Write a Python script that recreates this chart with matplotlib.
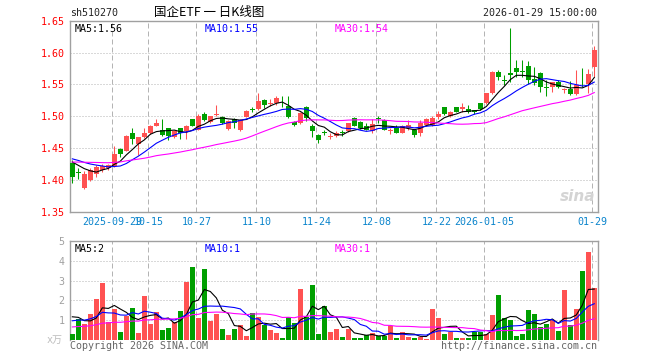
import matplotlib
matplotlib.use('Agg')
import matplotlib.pyplot as plt
import numpy as np
import pandas as pd

plt.rcParams['font.family'] = ['DejaVu Sans Mono', 'Noto Sans CJK SC']

# daily K of sh510270, 2025-09-18 .. 2026-01-29 (88 sessions)
opens = [1.427, 1.412, 1.387, 1.400, 1.409, 1.415, 1.418, 1.422, 1.448, 1.446,
         1.474, 1.456, 1.468, 1.474, 1.485, 1.478, 1.481, 1.468, 1.481, 1.476,
         1.495, 1.479, 1.503, 1.491, 1.502, 1.499, 1.480, 1.495, 1.478, 1.499,
         1.511, 1.511, 1.525, 1.519, 1.520, 1.521, 1.516, 1.491, 1.489, 1.514,
         1.485, 1.470, 1.475, 1.468, 1.469, 1.475, 1.476, 1.497, 1.491, 1.485,
         1.476, 1.497, 1.494, 1.476, 1.481, 1.474, 1.481, 1.478, 1.474, 1.486,
         1.486, 1.499, 1.514, 1.500, 1.514, 1.512, 1.512, 1.509, 1.520, 1.520,
         1.536, 1.570, 1.556, 1.568, 1.575, 1.571, 1.579, 1.559, 1.568, 1.545,
         1.546, 1.554, 1.541, 1.542, 1.535, 1.551, 1.550, 1.578]
highs = [1.431, 1.419, 1.414, 1.418, 1.424, 1.425, 1.425, 1.453, 1.450, 1.470,
         1.481, 1.468, 1.481, 1.486, 1.495, 1.495, 1.482, 1.478, 1.482, 1.486,
         1.496, 1.504, 1.506, 1.501, 1.518, 1.500, 1.494, 1.497, 1.495, 1.509,
         1.514, 1.536, 1.527, 1.527, 1.531, 1.531, 1.531, 1.492, 1.506, 1.516,
         1.487, 1.472, 1.478, 1.473, 1.477, 1.478, 1.490, 1.498, 1.492, 1.489,
         1.496, 1.500, 1.495, 1.481, 1.486, 1.486, 1.494, 1.480, 1.494, 1.497,
         1.500, 1.508, 1.515, 1.508, 1.515, 1.520, 1.517, 1.510, 1.521, 1.537,
         1.571, 1.572, 1.565, 1.639, 1.589, 1.589, 1.586, 1.578, 1.569, 1.557,
         1.554, 1.557, 1.545, 1.555, 1.573, 1.575, 1.574, 1.610]
lows = [1.395, 1.402, 1.385, 1.398, 1.405, 1.412, 1.416, 1.420, 1.436, 1.445,
        1.457, 1.439, 1.466, 1.472, 1.484, 1.469, 1.462, 1.466, 1.464, 1.464,
        1.484, 1.478, 1.492, 1.489, 1.500, 1.488, 1.478, 1.482, 1.476, 1.498,
        1.507, 1.510, 1.513, 1.516, 1.518, 1.515, 1.497, 1.484, 1.487, 1.492,
        1.468, 1.458, 1.470, 1.464, 1.467, 1.469, 1.475, 1.484, 1.480, 1.478,
        1.473, 1.490, 1.479, 1.472, 1.473, 1.473, 1.479, 1.468, 1.469, 1.485,
        1.485, 1.495, 1.502, 1.499, 1.506, 1.507, 1.505, 1.503, 1.510, 1.519,
        1.535, 1.557, 1.549, 1.554, 1.561, 1.561, 1.550, 1.549, 1.538, 1.532,
        1.538, 1.544, 1.536, 1.534, 1.534, 1.546, 1.536, 1.562]
closes = [1.405, 1.411, 1.409, 1.416, 1.420, 1.422, 1.423, 1.441, 1.441, 1.469,
          1.464, 1.467, 1.473, 1.485, 1.490, 1.470, 1.469, 1.477, 1.473, 1.485,
          1.485, 1.500, 1.494, 1.500, 1.503, 1.489, 1.493, 1.490, 1.494, 1.508,
          1.510, 1.524, 1.518, 1.521, 1.528, 1.520, 1.499, 1.486, 1.505, 1.497,
          1.476, 1.463, 1.473, 1.469, 1.474, 1.474, 1.489, 1.484, 1.481, 1.479,
          1.488, 1.496, 1.479, 1.479, 1.474, 1.485, 1.486, 1.470, 1.490, 1.495,
          1.497, 1.503, 1.503, 1.507, 1.507, 1.515, 1.507, 1.507, 1.511, 1.536,
          1.570, 1.562, 1.555, 1.564, 1.570, 1.570, 1.557, 1.552, 1.546, 1.544,
          1.554, 1.546, 1.542, 1.535, 1.549, 1.550, 1.566, 1.604]
# volume, x万
volumes = [0.32, 1.07, 0.82, 1.32, 2.07, 2.87, 0.92, 1.57, 0.42, 1.23,
           1.62, 0.37, 2.22, 0.82, 1.42, 0.52, 0.62, 0.92, 1.47, 2.92,
           3.67, 1.12, 3.57, 0.97, 1.32, 0.57, 0.27, 0.57, 0.77, 0.22,
           1.37, 1.17, 0.77, 0.52, 0.37, 0.12, 1.17, 0.87, 2.57, 1.17,
           2.77, 0.32, 1.72, 0.42, 0.57, 0.18, 0.57, 0.12, 0.12, 0.27,
           0.37, 0.22, 0.22, 0.72, 0.12, 0.42, 0.17, 0.12, 0.17, 0.07,
           1.57, 1.12, 0.32, 0.42, 0.12, 0.12, 0.12, 0.42, 0.42, 0.30,
           1.27, 2.27, 1.12, 1.02, 0.22, 0.32, 1.52, 1.32, 0.67, 0.82,
           1.02, 0.47, 2.52, 0.77, 1.57, 3.47, 4.43, 2.62]

# sessions before the window, only there to warm up the moving averages
pre_close = [1.412, 1.418, 1.421, 1.425, 1.430, 1.428, 1.424, 1.420, 1.418, 1.422,
             1.427, 1.431, 1.429, 1.426, 1.428, 1.432, 1.430, 1.427, 1.429, 1.433,
             1.436, 1.440, 1.441, 1.437, 1.436, 1.437, 1.435, 1.433, 1.430]
pre_vol = [0.42, 0.55, 0.38, 0.61, 0.47, 0.52, 0.66, 0.43, 0.39, 0.58,
           0.50, 0.45, 0.62, 0.57, 0.41, 0.48, 0.55, 0.63, 0.52, 0.56,
           0.72, 0.85, 0.66, 0.91, 0.76, 1.21, 1.65, 1.38, 1.34]

tick_idx = [7, 13, 21, 31, 41, 51, 61, 69, 87]
tick_labels = ['2025-09-29', '10-15', '10-27', '11-10', '11-24', '12-08',
               '12-22', '2026-01-05', '01-29']
price_ticks = [1.35, 1.40, 1.45, 1.50, 1.55, 1.60, 1.65]
vol_ticks = [1, 2, 3, 4, 5]

RED = '#ff5252'
GREEN = '#009f00'
GRID = '#b4b4b4'
BORDER = '#a0a0a0'

n = len(closes)
x = np.arange(n)
o = np.array(opens)
c = np.array(closes)
up = c >= o
cols = [RED if u else GREEN for u in up]


def ma(pre, vals, w):
    s = pd.Series(pre + vals).rolling(w).mean()
    return s.iloc[len(pre):].to_numpy()


fig = plt.figure(figsize=(6.6, 3.6), dpi=100)
W, H = 660.0, 360.0
ax = fig.add_axes([70.3 / W, 1 - 211.7 / H, 527.4 / W, 191 / H])
axv = fig.add_axes([70.3 / W, 1 - 340.3 / H, 527.4 / W, 99.6 / H])
xmin, xmax = -0.34, n - 1 + 0.57
grid_x = [i - 1 / 3 for i in tick_idx]

# ---- price panel
ax.vlines(x, lows, highs, colors=cols, lw=0.75, zorder=3)
body = np.maximum(np.abs(c - o), 0.0012)
ax.bar(x, body, bottom=np.minimum(o, c), width=0.8, color=cols, lw=0, zorder=3)
ax.plot(x, ma(pre_close, closes, 5), color='black', lw=0.8, zorder=4)
ax.plot(x, ma(pre_close, closes, 10), color='#0000ff', lw=0.8, zorder=4)
ax.plot(x, ma(pre_close, closes, 30), color='#ff00ff', lw=0.8, zorder=4)

ax.set_xlim(xmin, xmax)
ax.set_ylim(price_ticks[0], price_ticks[-1])
ax.set_yticks(price_ticks)
ax.set_yticklabels(['%.2f' % p for p in price_ticks])
ax.tick_params(axis='y', length=0, pad=4, labelsize=7.2, labelcolor='red')
ax.set_xticks(grid_x)
ax.set_xticklabels(tick_labels)
ax.tick_params(axis='x', length=0, pad=4, labelsize=7.2, labelcolor='#0a84cc')
for p in price_ticks[1:-1]:
    ax.axhline(p, color=GRID, lw=0.72, ls=(0, (1, 2)), zorder=1)
for g in grid_x:
    ax.axvline(g, color=GRID, lw=0.72, ls=(0, (5, 3)), zorder=1)
for sp in ax.spines.values():
    sp.set_color(BORDER)
    sp.set_linewidth(1.0)

ax.text(0.008, 0.985, 'MA5:1.56', transform=ax.transAxes, color='black',
        fontsize=7.2, va='top', ha='left')
ax.text((205 - 70.3) / 527.4, 0.985, 'MA10:1.55', transform=ax.transAxes,
        color='#0000ff', fontsize=7.2, va='top', ha='left')
ax.text((335 - 70.3) / 527.4, 0.985, 'MA30:1.54', transform=ax.transAxes,
        color='#ff00ff', fontsize=7.2, va='top', ha='left')
ax.text(0.995, 0.04, 'sina', transform=ax.transAxes, color='#d4d4d4',
        fontsize=11, style='italic', weight='bold', ha='right', va='bottom',
        family='DejaVu Sans')

# ---- volume panel
axv.bar(x, volumes, width=0.8, color=cols, lw=0, zorder=3)
axv.plot(x, ma(pre_vol, volumes, 5), color='black', lw=0.8, zorder=4)
axv.plot(x, ma(pre_vol, volumes, 10), color='#0000ff', lw=0.8, zorder=4)
axv.plot(x, ma(pre_vol, volumes, 30), color='#ff00ff', lw=0.8, zorder=4)
axv.set_xlim(xmin, xmax)
axv.set_ylim(0, 5)
axv.set_yticks(vol_ticks)
axv.set_yticklabels([str(v) for v in vol_ticks])
axv.tick_params(axis='y', length=0, pad=4, labelsize=7.2, labelcolor='#a0a0a0')
axv.set_xticks([])
for v in vol_ticks[:-1]:
    axv.axhline(v, color=GRID, lw=0.72, ls=(0, (1, 2)), zorder=1)
for g in grid_x:
    axv.axvline(g, color=GRID, lw=0.72, ls=(0, (5, 3)), zorder=1)
for sp in axv.spines.values():
    sp.set_color(BORDER)
    sp.set_linewidth(1.0)
axv.spines['bottom'].set_visible(False)

axv.text(0.008, 0.97, 'MA5:2', transform=axv.transAxes, color='black',
         fontsize=7.2, va='top', ha='left')
axv.text((205 - 70.3) / 527.4, 0.97, 'MA10:1', transform=axv.transAxes,
         color='#0000ff', fontsize=7.2, va='top', ha='left')
axv.text((335 - 70.3) / 527.4, 0.97, 'MA30:1', transform=axv.transAxes,
         color='#ff00ff', fontsize=7.2, va='top', ha='left')

# ---- header / footer texts
fig.text(70 / W, 1 - 13 / H, 'sh510270', fontsize=7.2, color='#222222',
         ha='left', va='center')
fig.text(209 / W, 1 - 12.5 / H, '国企ETF 一 日K线图', fontsize=9,
         color='black', ha='center', va='center',
         family=['Noto Sans CJK SC', 'DejaVu Sans'])
fig.text(597 / W, 1 - 13 / H, '2026-01-29 15:00:00', fontsize=7.2,
         color='#222222', ha='right', va='center')
fig.text(63 / W, 1 - 340 / H, 'x万', fontsize=7.2, color='#bdbdbd',
         ha='right', va='center')
fig.text(70 / W, 1 - 346 / H, 'Copyright 2026 SINA.COM', fontsize=7.2,
         color='#666666', ha='left', va='center')
fig.text(597 / W, 1 - 346 / H, 'http://finance.sina.com.cn', fontsize=7.2,
         color='#666666', ha='right', va='center')

fig.savefig('out.png', dpi=100)
